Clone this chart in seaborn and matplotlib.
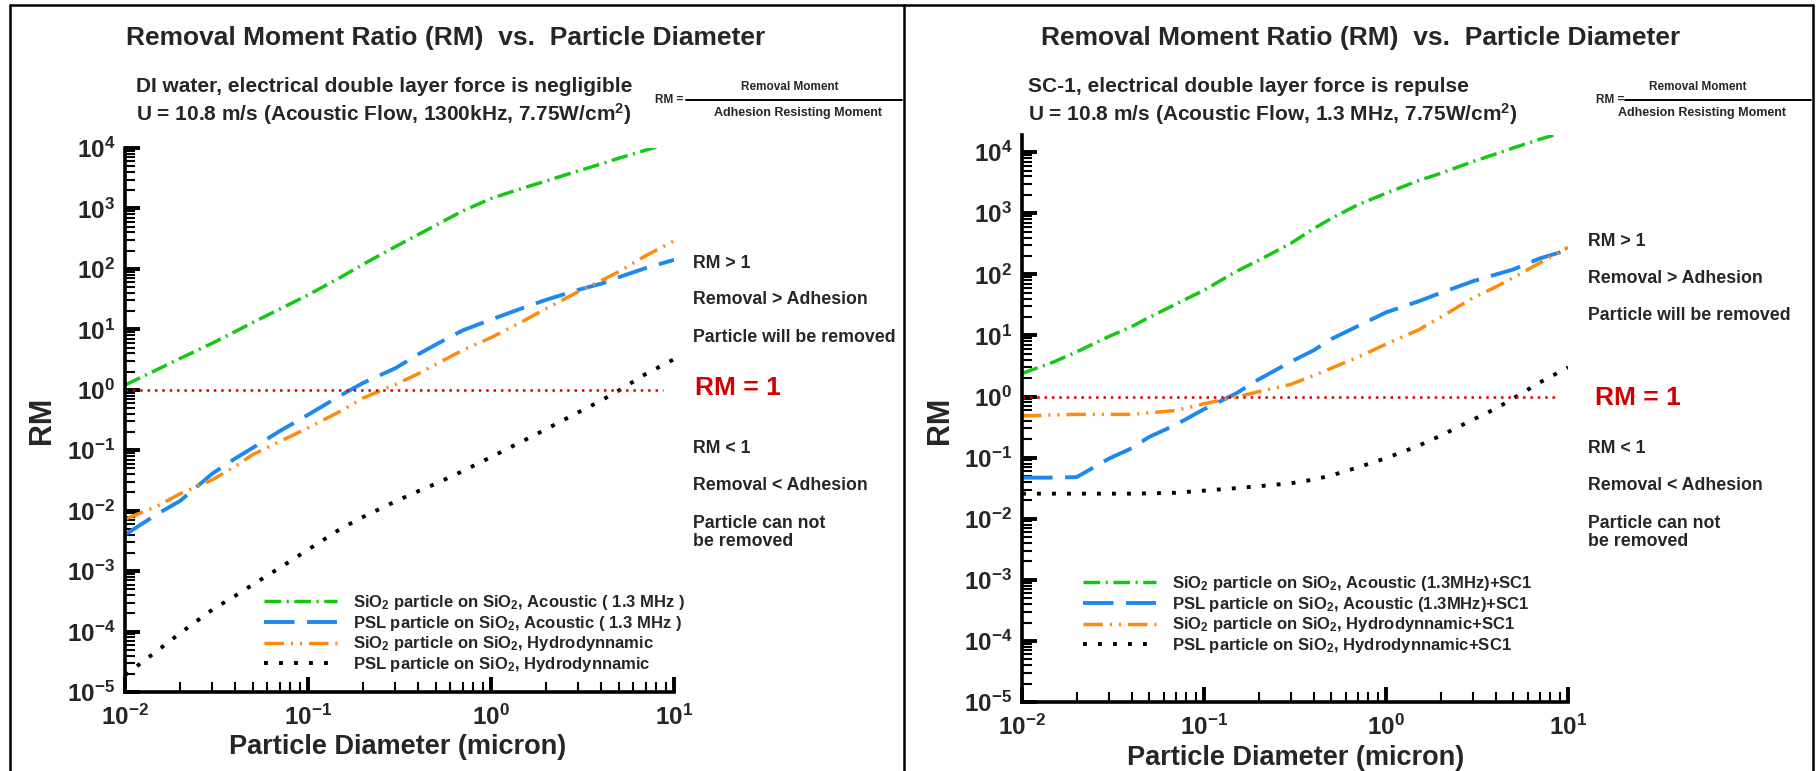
import seaborn as sns
import matplotlib.pyplot as plt
from matplotlib.lines import Line2D
from matplotlib.ticker import LogLocator, NullFormatter


diameter = [0.01, 0.015, 0.02, 0.03, 0.04, 0.05, 0.07, 0.1, 0.15, 0.2, 0.3,
            0.4, 0.5, 0.7, 1, 1.5, 2, 3, 4, 5, 7, 10]

# DI water panel
di_sio2_acoustic = [1.2, 2.16, 3.3, 5.9, 9.2, 13, 21.6, 37, 72, 119, 233,
                    369, 528, 908, 1460, 2180, 2850, 4180, 5450, 6780, 9220, 12600]
di_psl_acoustic = [0.004, 0.0088, 0.0145, 0.041, 0.073, 0.11, 0.207, 0.385, 0.80, 1.30, 2.27,
                   3.86, 5.6, 9.6, 14.5, 22.7, 30.8, 45, 57, 73, 103, 141]
di_sio2_hydro = [0.0072, 0.0119, 0.019, 0.0324, 0.054, 0.085, 0.139, 0.234, 0.44, 0.73, 1.22,
                 1.84, 2.65, 4.5, 7.3, 13.7, 22, 42, 64, 90, 165, 290]
di_psl_hydro = [1.9e-5, 4.8e-5, 9.4e-5, 2.3e-4, 3.9e-4, 6.0e-4, 1.13e-3, 2.26e-3, 4.97e-3, 7.9e-3, 0.0142,
                0.021, 0.028, 0.045, 0.077, 0.143, 0.223, 0.424, 0.664, 0.975, 1.82, 3.2]

# SC-1 panel
sc_sio2_acoustic = [2.38, 3.7, 5.4, 9.6, 13.9, 19.7, 32.5, 55, 111, 170, 321,
                    557, 820, 1375, 2120, 3400, 4500, 7000, 9300, 11700, 16200, 22400]
sc_psl_acoustic = [0.047, 0.047, 0.048, 0.096, 0.142, 0.218, 0.345, 0.62, 1.12, 1.91, 3.7,
                   5.7, 8.7, 14.2, 23.8, 35.9, 49.7, 77, 99, 120, 182, 250]
sc_sio2_hydro = [0.48, 0.50, 0.51, 0.51, 0.51, 0.54, 0.59, 0.76, 0.98, 1.2, 1.58,
                 2.2, 2.9, 4.4, 7.2, 12.2, 19.9, 41, 62, 88, 154, 275]
sc_psl_hydro = [0.0257, 0.0257, 0.0257, 0.0257, 0.0257, 0.026, 0.0266, 0.0288, 0.0316, 0.034, 0.038,
                0.0437, 0.051, 0.069, 0.098, 0.155, 0.229, 0.417, 0.63, 0.93, 1.70, 3.0]

di_labels = ["SiO$_2$ particle on SiO$_2$, Acoustic ( 1.3 MHz )",
             "PSL particle on SiO$_2$, Acoustic ( 1.3 MHz )",
             "SiO$_2$ particle on SiO$_2$, Hydrodynnamic",
             "PSL particle on SiO$_2$, Hydrodynnamic"]
sc_labels = ["SiO$_2$ particle on SiO$_2$, Acoustic (1.3MHz)+SC1",
             "PSL particle on SiO$_2$, Acoustic (1.3MHz)+SC1",
             "SiO$_2$ particle on SiO$_2$, Hydrodynnamic+SC1",
             "PSL particle on SiO$_2$, Hydrodynnamic+SC1"]

y_exponents = [-5, -4, -3, -2, -1, 0, 1, 2, 3, 4]
x_exponents = [-2, -1, 0, 1]


sns.set_style("white")
plt.rcParams['font.family'] = ['Liberation Sans', 'DejaVu Sans']
plt.rcParams['font.weight'] = 'bold'
plt.rcParams['mathtext.fontset'] = 'custom'
plt.rcParams['mathtext.rm'] = 'Liberation Sans:bold'
plt.rcParams['mathtext.bf'] = 'Liberation Sans:bold'
plt.rcParams['mathtext.default'] = 'bf'
plt.rcParams['lines.scale_dashes'] = False

W, H = 1818, 771
fig = plt.figure(figsize=(W / 100, H / 100), dpi=100)
fig.patch.set_facecolor('white')


def ftext(x, y, s, **kw):
    kw.setdefault('va', 'center')
    kw.setdefault('fontweight', 'bold')
    fig.text(x / W, 1 - y / H, s, **kw)


styles = [
    dict(color='#14c814', lw=2.5, linestyle=(0, (12, 4, 1.5, 4))),
    dict(color='#1e88f0', lw=2.8, linestyle=(0, (22, 9))),
    dict(color='#ff8a10', lw=2.5, linestyle=(0, (14, 5, 1.5, 5, 1.5, 5))),
    dict(color='black', lw=2.8, linestyle=(0, (2.8, 8))),
]


def draw_panel(rect, ymax, series, labels, legend_anchor):
    ax = fig.add_axes(rect)
    ax.set_xscale('log')
    ax.set_yscale('log')
    for vals, lab, st in zip(series, labels, styles):
        sns.lineplot(x=diameter, y=vals, ax=ax, label=lab, **st)
    ax.axhline(1, xmin=0, xmax=0.98, color='#d40000', lw=1.8, linestyle=(0, (1.8, 3.5)))
    ax.set_xlim(0.01, 10)
    ax.set_ylim(1e-5, ymax)
    sns.despine(ax=ax)
    for side in ['left', 'bottom']:
        ax.spines[side].set_linewidth(2.6)
        ax.spines[side].set_color('black')
    ax.set_yticks([10.0 ** k for k in y_exponents])
    ax.set_yticklabels(['$10^{%d}$' % k for k in y_exponents])
    ax.set_xticks([10.0 ** k for k in x_exponents])
    ax.set_xticklabels(['$10^{%d}$' % k for k in x_exponents])
    ax.yaxis.set_minor_locator(LogLocator(base=10, subs=range(2, 10), numticks=100))
    ax.xaxis.set_minor_locator(LogLocator(base=10, subs=range(2, 10), numticks=100))
    ax.yaxis.set_minor_formatter(NullFormatter())
    ax.xaxis.set_minor_formatter(NullFormatter())
    ax.tick_params(which='major', direction='in', length=11, width=2.8,
                   labelsize=17.5, color='black', left=True, bottom=True)
    ax.tick_params(axis='y', which='major', pad=7)
    ax.tick_params(axis='x', which='major', pad=9)
    ax.tick_params(which='minor', direction='in', length=7, width=1.5,
                   color='black', left=True, bottom=True)
    ax.set_xlabel('')
    ax.set_ylabel('')
    ax.legend(loc='upper left', bbox_to_anchor=(legend_anchor[0] / W, 1 - legend_anchor[1] / H),
              bbox_transform=fig.transFigure, frameon=False, fontsize=12,
              handlelength=4.4, handletextpad=0.95, labelspacing=0.1,
              borderpad=0, borderaxespad=0)
    return ax


ax1 = draw_panel([125 / W, 1 - 692 / H, 549 / W, 544 / H], 1e4,
                 [di_sio2_acoustic, di_psl_acoustic, di_sio2_hydro, di_psl_hydro],
                 di_labels, (264, 593))
ax2 = draw_panel([1022 / W, 1 - 702 / H, 546 / W, 567 / H], 10 ** 4.28,
                 [sc_sio2_acoustic, sc_psl_acoustic, sc_sio2_hydro, sc_psl_hydro],
                 sc_labels, (1083, 574))

# panel frames
for xs, ys in [([10, 1813], [5, 5]), ([10, 10], [5, 771]), ([904, 904], [5, 771]),
               ([1813, 1813], [5, 771])]:
    fig.add_artist(Line2D([x / W for x in xs], [1 - y / H for y in ys],
                          transform=fig.transFigure, color='black', lw=1.8))

panels = [
    dict(title_x=446, sub_x=136,
         sub1="DI water, electrical double layer force is negligible",
         sub2="U = 10.8 m/s (Acoustic Flow, 1300kHz, 7.75W/cm$^2$)",
         rm_x=655, line=(686, 902), num_x=790, den_x=798,
         note_x=693, notes_y=(263, 300, 337), rm1=(695, 388),
         ylab=(42, 420), xlab=(398, 747)),
    dict(title_x=1361, sub_x=1028,
         sub1="SC-1, electrical double layer force is repulse",
         sub2="U = 10.8 m/s (Acoustic Flow, 1.3 MHz, 7.75W/cm$^2$)",
         rm_x=1596, line=(1625, 1811), num_x=1698, den_x=1702,
         note_x=1588, notes_y=(242, 278, 316), rm1=(1595, 398),
         ylab=(940, 420), xlab=(1296, 758)),
]

for p in panels:
    ftext(p['title_x'], 38, "Removal Moment Ratio (RM)  vs.  Particle Diameter",
          ha='center', fontsize=19)
    ftext(p['sub_x'], 87, p['sub1'], ha='left', fontsize=15)
    ftext(p['sub_x'], 114, p['sub2'], ha='left', fontsize=15)
    ftext(p['rm_x'], 100, "RM =", ha='left', fontsize=8.5)
    fig.add_artist(Line2D([p['line'][0] / W, p['line'][1] / W], [1 - 100 / H, 1 - 100 / H],
                          transform=fig.transFigure, color='black', lw=1.4))
    ftext(p['num_x'], 87, "Removal Moment", ha='center', fontsize=8.5)
    ftext(p['den_x'], 113, "Adhesion Resisting Moment", ha='center', fontsize=9)
    n1, n2, n3 = p['notes_y']
    ftext(p['note_x'], n1, "RM > 1", ha='left', fontsize=12.8)
    ftext(p['note_x'], n2, "Removal > Adhesion", ha='left', fontsize=12.8)
    ftext(p['note_x'], n3, "Particle will be removed", ha='left', fontsize=12.8)
    ftext(p['rm1'][0], p['rm1'][1], "RM = 1", ha='left', fontsize=19, color='#d40000')
    ftext(p['note_x'], 448, "RM < 1", ha='left', fontsize=12.8)
    ftext(p['note_x'], 486, "Removal < Adhesion", ha='left', fontsize=12.8)
    ftext(p['note_x'], 523, "Particle can not", ha='left', fontsize=12.8)
    ftext(p['note_x'], 542, "be removed", ha='left', fontsize=12.8)
    ftext(p['ylab'][0], p['ylab'][1], "RM", ha='center', rotation=90, fontsize=22)
    ftext(p['xlab'][0], p['xlab'][1], "Particle Diameter (micron)", ha='center', fontsize=19.5)

fig.savefig('out.png', dpi=100, facecolor='white')
